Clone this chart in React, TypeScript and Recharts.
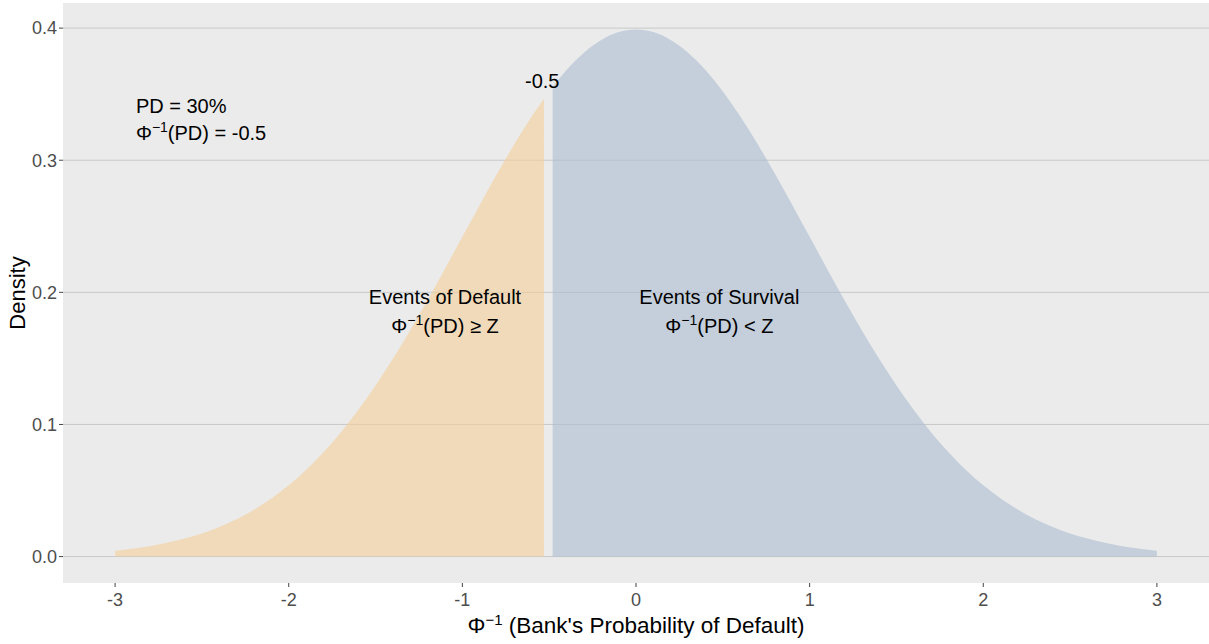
import React from 'react';
import {
  ComposedChart, Area, XAxis, YAxis, CartesianGrid, ReferenceDot,
} from 'recharts';

// standard normal density, split at PD threshold -0.5
const zValues = [
  -3.0, -2.9, -2.8, -2.7, -2.6, -2.5, -2.4, -2.3, -2.2, -2.1,
  -2.0, -1.9, -1.8, -1.7, -1.6, -1.5, -1.4, -1.3, -1.2, -1.1,
  -1.0, -0.9, -0.8, -0.7, -0.6, -0.53, -0.48, -0.4, -0.3, -0.2,
  -0.1, 0.0, 0.1, 0.2, 0.3, 0.4, 0.5, 0.6, 0.7, 0.8,
  0.9, 1.0, 1.1, 1.2, 1.3, 1.4, 1.5, 1.6, 1.7, 1.8,
  1.9, 2.0, 2.1, 2.2, 2.3, 2.4, 2.5, 2.6, 2.7, 2.8,
  2.9, 3.0,
];
const density = [
  0.0044, 0.0060, 0.0079, 0.0104, 0.0136, 0.0175, 0.0224, 0.0283, 0.0355, 0.0440,
  0.0540, 0.0656, 0.0790, 0.0940, 0.1109, 0.1295, 0.1497, 0.1714, 0.1942, 0.2179,
  0.2420, 0.2661, 0.2897, 0.3123, 0.3332, 0.3466, 0.3555, 0.3683, 0.3814, 0.3910,
  0.3970, 0.3989, 0.3970, 0.3910, 0.3814, 0.3683, 0.3521, 0.3332, 0.3123, 0.2897,
  0.2661, 0.2420, 0.2179, 0.1942, 0.1714, 0.1497, 0.1295, 0.1109, 0.0940, 0.0790,
  0.0656, 0.0540, 0.0440, 0.0355, 0.0283, 0.0224, 0.0175, 0.0136, 0.0104, 0.0079,
  0.0060, 0.0044,
];
const threshold = -0.5;
const xTicks = [-3, -2, -1, 0, 1, 2, 3];
const yTicks = [0, 0.1, 0.2, 0.3, 0.4];

const data = zValues.map((z, i) => ({
  z,
  defaultArea: z < threshold ? density[i] : null,
  survivalArea: z > threshold ? density[i] : null,
}));

const FONT = '"Liberation Sans", Arial, sans-serif';

const Sup = ({ rest, size = 14 }: { rest: string; size?: number }) => (
  <>
    {'Φ'}
    <tspan fontSize={size} dy={-8}>−1</tspan>
    <tspan dy={8}>{rest}</tspan>
  </>
);

const TwoLines = ({ cx, cy, first, rest, gap = 28, anchor = 'middle' }: { cx?: number; cy?: number; first: string; rest: string; gap?: number; anchor?: 'middle' | 'start' }) => (
  <text x={cx} y={cy} textAnchor={anchor} fontSize={20} fill="#000" fontFamily={FONT}>
    <tspan x={cx}>{first}</tspan>
    <tspan x={cx} dy={gap}>
      <Sup rest={rest} />
    </tspan>
  </text>
);

export default function App() {
  return (
    <div style={{ position: 'absolute', left: 0, top: 0, width: 1209, height: 644, background: '#fff', fontFamily: FONT }}>
      <ComposedChart width={1209} height={644} data={data} margin={{ top: 3, right: 0, left: 0, bottom: 0 }}>
        <CartesianGrid vertical={false} fill="#EBEBEB" stroke="#C8C8C8" horizontalValues={yTicks} />
        <XAxis
          dataKey="z"
          type="number"
          domain={[-3.3, 3.3]}
          ticks={xTicks}
          allowDataOverflow
          axisLine={false}
          tickSize={4}
          tickMargin={6}
          tickLine={{ stroke: '#444' }}
          tick={{ fontSize: 18, fill: '#4D4D4D', fontFamily: FONT }}
          height={61}
          label={{
            content: (props: any) => {
              const vb = props.viewBox;
              return (
                <text x={vb.x + vb.width / 2} y={vb.y + 50} textAnchor="middle" fontSize={22.5} fill="#000" fontFamily={FONT}>
                  <Sup rest=" (Bank's Probability of Default)" size={15} />
                </text>
              );
            },
          }}
        />
        <YAxis
          type="number"
          domain={[-0.02, 0.419]}
          ticks={yTicks}
          allowDataOverflow
          axisLine={false}
          tickSize={4}
          tickMargin={2}
          tickLine={{ stroke: '#444' }}
          tick={{ fontSize: 18, fill: '#4D4D4D', fontFamily: FONT }}
          tickFormatter={(v: number) => v.toFixed(1)}
          width={63}
          label={{
            content: (props: any) => {
              const vb = props.viewBox;
              const cy = vb.y + vb.height / 2;
              return (
                <text x={25} y={cy} transform={`rotate(-90 25 ${cy})`} textAnchor="middle" fontSize={22} fill="#000" fontFamily={FONT}>
                  Density
                </text>
              );
            },
          }}
        />
        <Area
          type="monotone"
          dataKey="defaultArea"
          stroke="none"
          fill="#F5CF98"
          fillOpacity={0.6}
          dot={false}
          activeDot={false}
          isAnimationActive={false}
        />
        <Area
          type="monotone"
          dataKey="survivalArea"
          stroke="none"
          fill="#AABCD0"
          fillOpacity={0.6}
          dot={false}
          activeDot={false}
          isAnimationActive={false}
        />
        <ReferenceDot
          x={-2.88}
          y={0.336}
          r={0}
          shape={(p: any) => <TwoLines cx={p.cx} cy={p.cy} first="PD = 30%" rest="(PD) = -0.5" gap={27} anchor="start" />}
        />
        <ReferenceDot
          x={-0.54}
          y={0.355}
          r={0}
          shape={(p: any) => (
            <text x={p.cx} y={p.cy} textAnchor="middle" fontSize={20} fill="#000" fontFamily={FONT}>-0.5</text>
          )}
        />
        <ReferenceDot
          x={-1.1}
          y={0.191}
          r={0}
          shape={(p: any) => <TwoLines cx={p.cx} cy={p.cy} first="Events of Default" rest="(PD) ≥ Z" gap={29} />}
        />
        <ReferenceDot
          x={0.48}
          y={0.191}
          r={0}
          shape={(p: any) => <TwoLines cx={p.cx} cy={p.cy} first="Events of Survival" rest="(PD) < Z" gap={29} />}
        />
      </ComposedChart>
    </div>
  );
}
